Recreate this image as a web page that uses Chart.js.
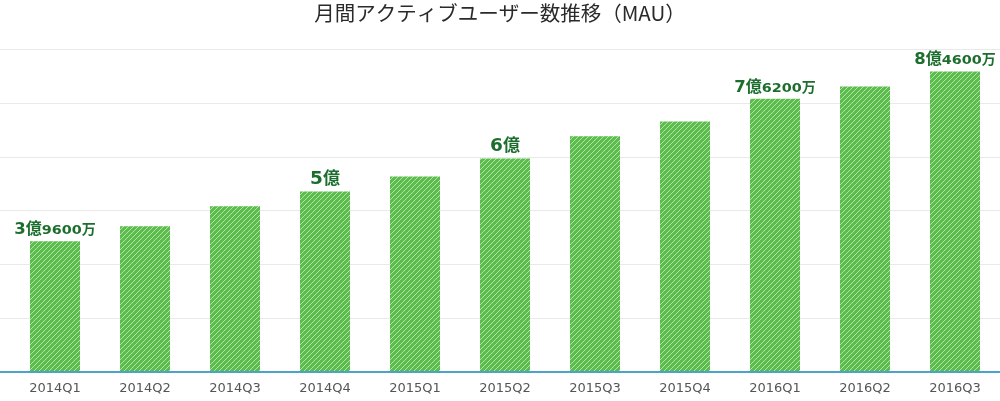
<!DOCTYPE html>
<html>
<head>
<meta charset="utf-8">
<script src="https://cdn.jsdelivr.net/npm/chart.js@4"></script>
<style>
  html, body { margin: 0; padding: 0; background: #fff; }
  #wrap { width: 1000px; height: 401px; }
</style>
</head>
<body>
<div id="wrap"><canvas id="mauChart"></canvas></div>
<script>
// quarters and MAU (unit: 億人)
const quarters = ['2014Q1','2014Q2','2014Q3','2014Q4','2015Q1','2015Q2','2015Q3','2015Q4','2016Q1','2016Q2','2016Q3'];
const mau = [3.65, 4.07, 4.63, 5.04, 5.46, 5.96, 6.58, 6.99, 7.63, 7.97, 8.39];
// value labels printed above some bars
const barLabels = ['3億9600万','','','5億','','6億','','','7億6200万','','8億4600万'];
const yMax = 9;
const yStep = 1.5;

const GREEN = '#5bbd4b';
const LABEL_GREEN = '#1c6e2d';
const AXIS_BLUE = '#4aa4c8';

// diagonal white stripes over green
function stripePattern() {
  const s = 5;
  const c = document.createElement('canvas');
  c.width = s; c.height = s;
  const g = c.getContext('2d');
  g.fillStyle = GREEN;
  g.fillRect(0, 0, s, s);
  g.strokeStyle = 'rgba(255,255,255,0.55)';
  g.lineWidth = 1;
  g.beginPath();
  g.moveTo(0, s); g.lineTo(s, 0);
  g.moveTo(-1, 1); g.lineTo(1, -1);
  g.moveTo(s - 1, s + 1); g.lineTo(s + 1, s - 1);
  g.stroke();
  return g.createPattern(c, 'repeat');
}

// draws "3億9600万" style labels with mixed sizes (digits a bit stretched)
const labelPlugin = {
  id: 'barLabels',
  afterDatasetsDraw(chart) {
    const ctx = chart.ctx;
    const meta = chart.getDatasetMeta(0);
    meta.data.forEach((bar, i) => {
      const txt = barLabels[i];
      if (!txt) return;
      const m = txt.match(/^(\d+)(億)(\d*)(万?)$/);
      if (!m) return;
      const hasSmall = m[3] !== '';
      const segs = hasSmall ? [
        { t: m[1], f: 'bold 15px "DejaVu Sans"', sx: 1.1 },
        { t: m[2], f: 'bold 16px "Noto Sans CJK JP"', sx: 1 },
        { t: m[3], f: 'bold 11.5px "DejaVu Sans"', sx: 1.25 },
        { t: m[4], f: 'bold 14px "Noto Sans CJK JP"', sx: 1 }
      ] : [
        { t: m[1], f: 'bold 18.5px "DejaVu Sans"', sx: 1 },
        { t: m[2], f: 'bold 17px "Noto Sans CJK JP"', sx: 1 }
      ];
      ctx.save();
      ctx.fillStyle = LABEL_GREEN;
      ctx.textBaseline = 'alphabetic';
      ctx.textAlign = 'left';
      let total = 0;
      segs.forEach(s => {
        ctx.font = s.f;
        s.w = ctx.measureText(s.t).width * s.sx;
        total += s.w;
      });
      let x = bar.x - total / 2;
      const y = bar.y - 7;
      segs.forEach(s => {
        ctx.save();
        ctx.font = s.f;
        ctx.translate(x, y);
        ctx.scale(s.sx, 1);
        ctx.fillText(s.t, 0, 0);
        ctx.restore();
        x += s.w;
      });
      ctx.restore();
    });
  }
};

new Chart(document.getElementById('mauChart'), {
  type: 'bar',
  data: {
    labels: quarters,
    datasets: [{
      data: mau,
      backgroundColor: stripePattern(),
      borderWidth: 0,
      categoryPercentage: 50 / 90,
      barPercentage: 1
    }]
  },
  options: {
    responsive: true,
    maintainAspectRatio: false,
    animation: false,
    layout: { padding: { bottom: 0 } },
    plugins: {
      legend: { display: false },
      tooltip: { enabled: false },
      title: {
        display: true,
        text: '月間アクティブユーザー数推移（MAU）',
        color: '#2a2a2a',
        font: { family: '"Noto Sans CJK JP"', size: 20.5, weight: 'normal' },
        padding: { top: 1, bottom: 24 }
      }
    },
    scales: {
      x: {
        grid: { display: false, drawTicks: false },
        border: { display: false },
        ticks: {
          color: '#555',
          font: { family: '"DejaVu Sans"', size: 13 },
          padding: 9,
          maxRotation: 0
        },
        afterFit: s => { s.height = 29; }
      },
      y: {
        min: 0,
        max: yMax,
        border: { display: false },
        grid: {
          tickLength: 10,
          color: c => c.tick && c.tick.value === 0 ? AXIS_BLUE : '#e9e9e9',
          lineWidth: c => c.tick && c.tick.value === 0 ? 2 : 1
        },
        ticks: { display: false, stepSize: yStep }
      }
    }
  },
  plugins: [labelPlugin]
});
</script>
</body>
</html>
